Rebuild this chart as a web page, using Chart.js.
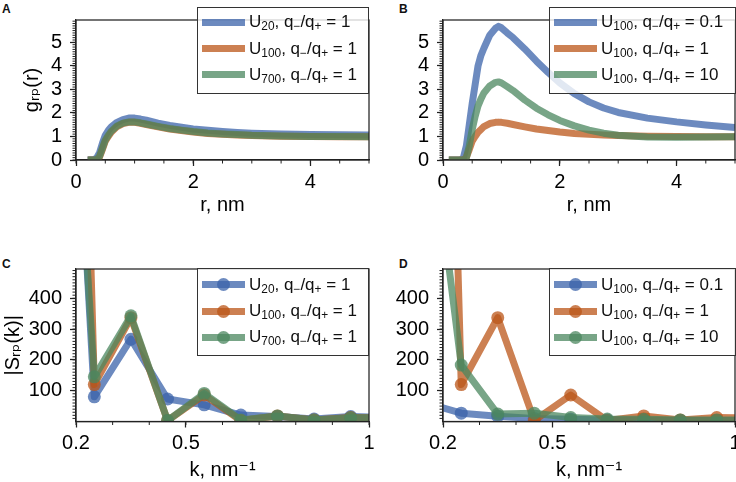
<!DOCTYPE html>
<html>
<head>
<meta charset="utf-8">
<script src="https://cdn.jsdelivr.net/npm/chart.js@4.4.1/dist/chart.umd.min.js"></script>
<style>
  body { margin: 0; background: #fff; width: 736px; height: 482px; position: relative; overflow: hidden;
         font-family: 'Liberation Sans', 'DejaVu Sans', Arial, sans-serif; }
  canvas { position: absolute; }
  .lg { position: absolute; box-sizing: border-box; border: 1.25px solid #333; background: rgba(255,255,255,0.8); }
  .row { height: 26.4px; display: flex; align-items: center; font-size: 17px; color: #111; white-space: nowrap; }
  .h { position: relative; width: 43px; height: 7px; margin: 0 4px; flex: none; }
  .m { position: absolute; width: 13px; height: 13px; border-radius: 50%; top: -3px; left: 15px; }
  sub { font-size: 0.7em; vertical-align: -0.25em; line-height: 0; }
  .tag { position: absolute; font-weight: bold; font-size: 12px; line-height: 12px; color: #111; }
</style>
</head>
<body>
<div class="tag" style="left:2px;top:3px">A</div>
<div class="tag" style="left:399px;top:3px">B</div>
<div class="tag" style="left:2px;top:258px">C</div>
<div class="tag" style="left:399px;top:258px">D</div>

<canvas id="chartA" width="385" height="240" style="left:0;top:0"></canvas>
<canvas id="chartB" width="385" height="240" style="left:366px;top:0"></canvas>
<canvas id="chartC" width="385" height="242" style="left:0;top:240px"></canvas>
<canvas id="chartD" width="385" height="242" style="left:366px;top:240px"></canvas>

<script>
// ---- data: radial distribution g_rp(r) ----
const rA = [0.2, 0.3, 0.35, 0.4, 0.45, 0.5, 0.55, 0.6, 0.7, 0.8, 0.9, 1.0, 1.1, 1.2, 1.4, 1.6, 1.8, 2.0, 2.25, 2.5, 2.75, 3.0, 3.5, 4.0, 4.5, 5.0];
const gA_U20  = [0, 0.02, 0.08, 0.3, 0.7, 1.05, 1.25, 1.4, 1.6, 1.72, 1.78, 1.78, 1.74, 1.69, 1.57, 1.47, 1.39, 1.32, 1.26, 1.21, 1.17, 1.14, 1.1, 1.08, 1.07, 1.06];
const gA_U100 = [0, 0, 0, 0.12, 0.45, 0.8, 1.0, 1.18, 1.42, 1.55, 1.6, 1.6, 1.56, 1.51, 1.41, 1.32, 1.25, 1.19, 1.13, 1.09, 1.06, 1.04, 1.01, 1.0, 0.99, 0.99];
const gA_U700 = [0, 0, 0.02, 0.15, 0.5, 0.85, 1.05, 1.22, 1.45, 1.57, 1.62, 1.62, 1.58, 1.53, 1.43, 1.34, 1.27, 1.21, 1.15, 1.11, 1.08, 1.05, 1.02, 1.0, 1.0, 0.99];

const rB = [0.1, 0.2, 0.3, 0.35, 0.4, 0.45, 0.5, 0.55, 0.6, 0.65, 0.7, 0.8, 0.9, 0.95, 1.0, 1.1, 1.2, 1.4, 1.6, 1.8, 2.0, 2.25, 2.5, 2.75, 3.0, 3.5, 4.0, 4.5, 5.0];
const gB_q01 = [0, 0, 0, 0.1, 0.6, 1.5, 2.4, 3.2, 4.0, 4.45, 4.75, 5.3, 5.6, 5.68, 5.62, 5.4, 5.2, 4.72, 4.2, 3.72, 3.28, 2.82, 2.47, 2.21, 2.02, 1.78, 1.62, 1.49, 1.38];
const gB_q1  = [0, 0, 0, 0, 0.12, 0.45, 0.8, 1.0, 1.18, 1.3, 1.42, 1.55, 1.6, 1.61, 1.6, 1.56, 1.51, 1.41, 1.32, 1.25, 1.19, 1.13, 1.09, 1.06, 1.04, 1.01, 1.0, 0.99, 0.99];
const gB_q10 = [0, 0, 0, 0, 0.1, 0.6, 1.3, 1.85, 2.3, 2.6, 2.85, 3.15, 3.3, 3.32, 3.28, 3.12, 2.95, 2.55, 2.2, 1.92, 1.68, 1.45, 1.27, 1.14, 1.05, 0.98, 0.97, 0.98, 0.99];

// ---- data: structure factor |S_rp(k)| ----
const kVals = [0.15, 0.25, 0.35, 0.45, 0.55, 0.65, 0.75, 0.85, 0.95, 1.05];
const sC_U20  = [2200, 80, 267, 73, 54, 21, 16, 8, 16, 14];
const sC_U100 = [4300, 120, 337, 3, 86, 3, 18, 5, 13, 12];
const sC_U700 = [2000, 145, 343, 3, 91, 5, 18, 5, 12, 12];
const sD_q01  = [62, 27, 17, 10, 7, 5, 4, 3, 3, 3];
const sD_q1   = [4300, 120, 337, 3, 86, 3, 18, 5, 13, 12];
const sD_q10  = [1130, 183, 24, 27, 13, 8, 7, 5, 5, 5];

// ---- labels and ticks ----
const labelsA = ['U<sub>20</sub>, q<sub>−</sub>/q<sub>+</sub> = 1', 'U<sub>100</sub>, q<sub>−</sub>/q<sub>+</sub> = 1', 'U<sub>700</sub>, q<sub>−</sub>/q<sub>+</sub> = 1'];
const labelsB = ['U<sub>100</sub>, q<sub>−</sub>/q<sub>+</sub> = 0.1', 'U<sub>100</sub>, q<sub>−</sub>/q<sub>+</sub> = 1', 'U<sub>100</sub>, q<sub>−</sub>/q<sub>+</sub> = 10'];
const rTicks = [0, 2, 4];
const gTicks = [0, 1, 2, 3, 4, 5];
const kTicks = [0.2, 0.5, 1];
const sTicks = [100, 200, 300, 400];

const colors = ['rgba(59,99,169,0.75)', 'rgba(187,85,24,0.75)', 'rgba(75,135,95,0.75)'];
const AX = '#222';

Chart.defaults.font.family = "'Liberation Sans', 'DejaVu Sans', Arial, sans-serif";
Chart.defaults.font.size = 20;
Chart.defaults.color = '#000';

function range(from, to, step) {
  const out = [];
  for (let v = from; v <= to + 1e-9; v += step) out.push(Math.round(v * 1000) / 1000);
  return out;
}

// minor ticks + closed frame around the plot area
const framePlugin = {
  id: 'frame',
  afterDraw(chart, args, opts) {
    const {ctx, chartArea} = chart;
    const xs = chart.scales.x, ys = chart.scales.y;
    ctx.save();
    ctx.strokeStyle = AX;
    ctx.lineWidth = 1;
    ctx.beginPath();
    (opts.minorX || []).forEach(v => {
      const px = xs.getPixelForValue(v);
      ctx.moveTo(px, chartArea.bottom);
      ctx.lineTo(px, chartArea.bottom + 3.5);
    });
    (opts.minorY || []).forEach(v => {
      const py = ys.getPixelForValue(v);
      ctx.moveTo(chartArea.left, py);
      ctx.lineTo(chartArea.left - 3.5, py);
    });
    ctx.stroke();
    ctx.lineWidth = 1.25;
    ctx.strokeRect(chartArea.left, chartArea.top, chartArea.right - chartArea.left, chartArea.bottom - chartArea.top);
    ctx.restore();
  }
};

function xAxis(min, max, major, title, titlePad, height) {
  return {
    type: 'linear', min: min, max: max,
    afterBuildTicks: s => { s.ticks = major.map(v => ({value: v})); },
    afterFit: s => { s.height = height; },
    grid: {drawOnChartArea: false, tickLength: 6, tickWidth: 1.25, tickColor: AX},
    border: {color: AX, width: 1.25},
    ticks: {padding: 4, maxRotation: 0, autoSkip: false, callback: v => String(Math.round(v * 100) / 100)},
    title: {display: true, text: title, padding: {top: 0, bottom: titlePad}}
  };
}

function yAxis(min, max, major, title, titlePad) {
  return {
    type: 'linear', min: min, max: max,
    afterBuildTicks: s => { s.ticks = major.map(v => ({value: v})); },
    afterFit: s => { s.width = 76; },
    grid: {drawOnChartArea: false, tickLength: 6, tickWidth: 1.25, tickColor: AX},
    border: {color: AX, width: 1.25},
    ticks: {padding: 8, autoSkip: false},
    title: {display: !!title, text: title, padding: {top: titlePad, bottom: 0}}
  };
}

function series(xv, yv, i, markers) {
  return {
    data: xv.map((x, j) => ({x: x, y: yv[j]})),
    borderColor: colors[i],
    backgroundColor: colors[i],
    borderWidth: 7,
    borderJoinStyle: 'round',
    pointRadius: markers ? 6.5 : 0,
    pointBorderWidth: 0,
    pointBackgroundColor: colors[i],
    clip: 0,
    order: 3 - i
  };
}

function makeChart(id, datasets, scales, pad, minorX, minorY) {
  return new Chart(document.getElementById(id), {
    type: 'line',
    data: {datasets: datasets},
    options: {
      responsive: false,
      animation: false,
      devicePixelRatio: 1,
      layout: {padding: pad},
      plugins: {legend: {display: false}, tooltip: {enabled: false}, frame: {minorX: minorX, minorY: minorY}},
      scales: scales
    },
    plugins: [framePlugin]
  });
}

const rMinor = range(0, 5, 0.5);
const gMinor = range(0, 5.9, 0.1);
const kMinor = range(0.2, 1, 0.1);
const sMinor = range(10, 490, 10);

makeChart('chartA', [
  series(rA, gA_U20, 0, false), series(rA, gA_U100, 1, false), series(rA, gA_U700, 2, false)
], {x: xAxis(0, 5, rTicks, 'r, nm', 23, 80), y: yAxis(0, 5.95, gTicks, 'gᵣₚ(r)', 20)},
  {top: 7, right: 16, left: 0, bottom: 0}, rMinor, gMinor);

makeChart('chartB', [
  series(rB, gB_q01, 0, false), series(rB, gB_q1, 1, false), series(rB, gB_q10, 2, false)
], {x: xAxis(0, 5, rTicks, 'r, nm', 23, 80), y: yAxis(0, 5.95, gTicks, '', 0)},
  {top: 7, right: 16, left: 1, bottom: 0}, rMinor, gMinor);

makeChart('chartC', [
  series(kVals, sC_U20, 0, true), series(kVals, sC_U100, 1, true), series(kVals, sC_U700, 2, true)
], {x: xAxis(0.2, 1, kTicks, 'k, nm⁻¹', 0, 60.5), y: yAxis(0, 495, sTicks, '|Sᵣₚ(k)|', 1.5)},
  {top: 29, right: 16, left: 0, bottom: 0}, kMinor, sMinor);

makeChart('chartD', [
  series(kVals, sD_q01, 0, true), series(kVals, sD_q1, 1, true), series(kVals, sD_q10, 2, true)
], {x: xAxis(0.2, 1, kTicks, 'k, nm⁻¹', 0, 60.5), y: yAxis(0, 495, sTicks, '', 0)},
  {top: 29, right: 16, left: 1, bottom: 0}, kMinor, sMinor);

// legends drawn inside the plot areas, as in the figure
function legend(left, top, width, height, padTop, labels, markers) {
  const box = document.createElement('div');
  box.className = 'lg';
  Object.assign(box.style, {left: left + 'px', top: top + 'px', width: width + 'px', height: height + 'px', paddingTop: padTop + 'px'});
  labels.forEach((txt, i) => {
    const row = document.createElement('div');
    row.className = 'row';
    const h = document.createElement('span');
    h.className = 'h';
    h.style.background = colors[i];
    if (markers) {
      const m = document.createElement('span');
      m.className = 'm';
      m.style.background = colors[i];
      h.appendChild(m);
    }
    row.appendChild(h);
    const t = document.createElement('span');
    t.innerHTML = txt;
    row.appendChild(t);
    box.appendChild(row);
  });
  document.body.appendChild(box);
}

legend(197, 7, 172, 87, 1, labelsA, false);
legend(549, 7, 187, 87, 1, labelsB, false);
legend(197, 268, 172, 88, 2.5, labelsA, true);
legend(549, 268, 187, 88, 2.5, labelsB, true);
</script>
</body>
</html>
